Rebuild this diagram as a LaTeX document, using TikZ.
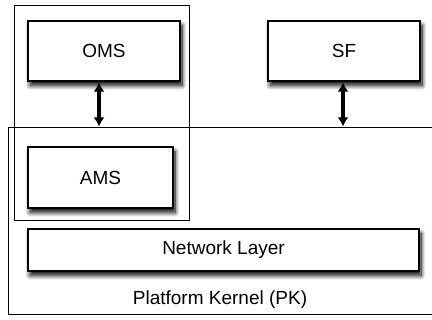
\documentclass[tikz,border=0pt]{standalone}
\usepackage{fontspec}
\setmainfont{Liberation Sans}
\usepackage{tikz}
\usetikzlibrary{positioning}
\usetikzlibrary{arrows.meta,shadows.blur}
\pgfkeys{tikz/compbox/.style={draw,fill=white,line width=1.2pt,inner sep=0pt,
    font=\fontsize{19}{22}\selectfont,
    blur shadow={shadow xshift=2pt,shadow yshift=-4.5pt,shadow blur radius=4.5pt,shadow blur steps=12,shadow opacity=100}}}
\pgfkeys{tikz/groupbox/.style={draw,line width=1pt}}
\pgfkeys{tikz/link/.style={{Latex[length=9pt,width=11pt]}-{Latex[length=9pt,width=11pt]},line width=3.4pt,shorten <=1pt,shorten >=1pt}}

\begin{document}
\begin{tikzpicture}[x=1pt,y=1pt]
	\useasboundingbox (0,0) rectangle (432,320);
	\clip (0,0) rectangle (432,320);

	% components
	\node[compbox,minimum width=152pt,minimum height=60pt] (oms) at (104,269) {OMS};
	\node[compbox,minimum width=152pt,minimum height=60pt] (sf) at (344,269) {SF};
	\node[compbox,minimum width=145pt,minimum height=61pt] (ams) at (100.5,142.5) {AMS};
	\node[compbox,minimum width=391pt,minimum height=42pt] (net) at (223.5,70) {Network Layer};

	% enclosing boxes
	\draw[groupbox] (14,314) rectangle (189,99);
	\draw[groupbox] (8,192.5) rectangle (440,5);
	\node[font=\fontsize{19}{22}\selectfont] (pk) at (220,20) {Platform Kernel (PK)};

	\coordinate (pkin1) at (99,192.5);
	\coordinate (pkin2) at (343,192.5);
	\draw[link] (oms.south -| pkin1) -- (pkin1);
	\draw[link] (sf.south -| pkin2) -- (pkin2);

\end{tikzpicture}
\end{document}
